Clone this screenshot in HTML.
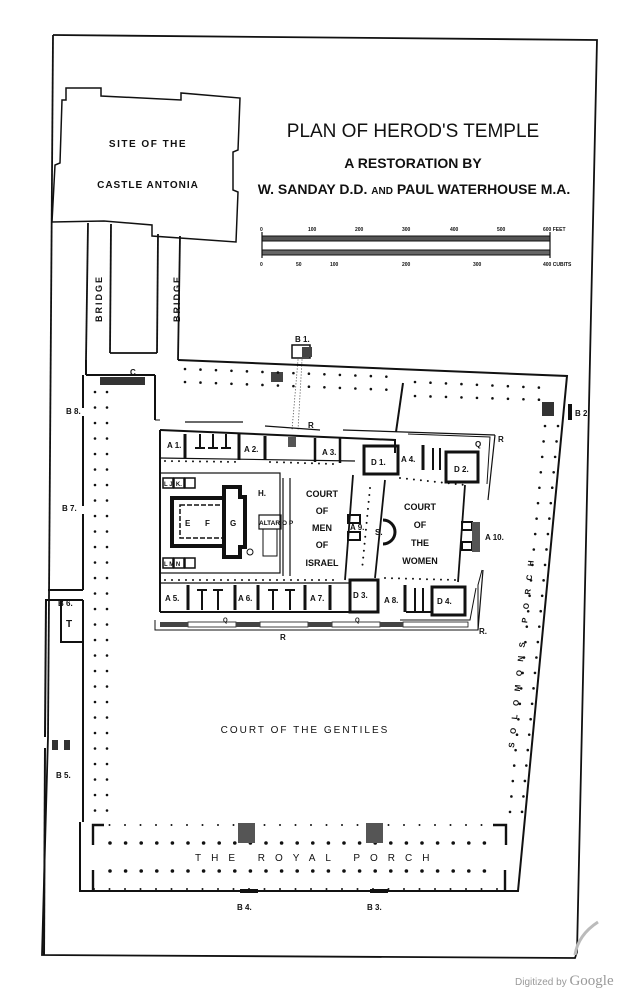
<!DOCTYPE html>
<html><head><meta charset="utf-8"><style>
html,body{margin:0;padding:0;background:#fff;}
svg{display:block;}
text{font-family:"Liberation Sans",sans-serif;fill:#111;}
.b{font-weight:bold;}
</style></head><body>
<svg width="643" height="1006" viewBox="0 0 643 1006" xmlns="http://www.w3.org/2000/svg">
<g fill="none" stroke="#111" stroke-width="1.8">
<polyline points="53,35 597,40 577,952 575,958 42,955 48,737"/>
<line x1="53" y1="35" x2="48" y2="737"/>
<polygon points="66,88 101,88 101,96 181,100 181,93 240,98 238,150 233,152 233,190 238,192 236,242 152,236 152,225 104,221 52,222 55,165 60,163 62,100 66,100" stroke-width="1.5"/>
<line x1="88" y1="223" x2="86" y2="360"/>
<line x1="111" y1="224" x2="110" y2="353"/>
<line x1="158" y1="234" x2="157" y2="353"/>
<line x1="180" y1="236" x2="178" y2="360"/>
<line x1="110" y1="353" x2="157" y2="353"/>
</g>

<text x="413" y="137" font-size="19" text-anchor="middle">PLAN OF HEROD'S TEMPLE</text>
<text x="413" y="168" font-size="14" text-anchor="middle" class="b">A RESTORATION  BY</text>
<text x="414" y="194" font-size="14" text-anchor="middle" class="b">W. SANDAY D.D. <tspan font-size="10">AND</tspan> PAUL WATERHOUSE M.A.</text>
<text x="148" y="147" font-size="10" text-anchor="middle" class="b" letter-spacing="1.5">SITE OF THE</text>
<text x="148" y="188" font-size="10" text-anchor="middle" class="b" letter-spacing="1">CASTLE ANTONIA</text>
<text transform="translate(102,322) rotate(-90)" font-size="9" class="b" letter-spacing="2">BRIDGE</text>
<text transform="translate(180,322) rotate(-90)" font-size="9" class="b" letter-spacing="2">BRIDGE</text>

<g stroke="#111">
<rect x="262" y="236" width="288" height="5" fill="#555" stroke-width="1"/>
<rect x="262" y="250" width="288" height="5" fill="#666" stroke-width="1"/>
<line x1="262" y1="232" x2="262" y2="258" stroke-width="1.2"/>
<line x1="550" y1="232" x2="550" y2="258" stroke-width="1.2"/>
</g>
<g font-size="5" class="b">
<text x="260" y="231">0</text><text x="308" y="231">100</text><text x="355" y="231">200</text><text x="402" y="231">300</text><text x="450" y="231">400</text><text x="497" y="231">500</text><text x="543" y="231">600 FEET</text>
<text x="260" y="266">0</text><text x="296" y="266">50</text><text x="330" y="266">100</text><text x="402" y="266">200</text><text x="473" y="266">300</text><text x="543" y="266">400 CUBITS</text>
</g>

<g fill="none" stroke="#111" stroke-width="2">
<polyline points="178,360 567,376 518,891 80,891 80,822"/>
<line x1="83" y1="375" x2="83" y2="408"/>
<line x1="83" y1="416" x2="83" y2="506"/>
<line x1="83" y1="514" x2="83" y2="590"/>
<line x1="83" y1="600" x2="83" y2="822"/>
<line x1="48" y1="590" x2="83" y2="590"/>
<line x1="45" y1="600" x2="83" y2="600"/>
<line x1="46" y1="600" x2="45" y2="737"/>
<line x1="45" y1="748" x2="44" y2="955"/>
<polyline points="61,600 61,642 82,642"/>
<line x1="86" y1="360" x2="86" y2="375"/>
<line x1="86" y1="375" x2="155" y2="375"/>
<line x1="155" y1="375" x2="155" y2="420"/>
<line x1="403" y1="383" x2="396" y2="432"/>
</g>
<rect x="52" y="740" width="6" height="10" fill="#333"/><rect x="64" y="740" width="6" height="10" fill="#333"/>
<rect x="100" y="377" width="45" height="8" fill="#333"/>
<rect x="292" y="345" width="18" height="13" fill="#fff" stroke="#111" stroke-width="1.5"/>
<rect x="302" y="347" width="10" height="10" fill="#444"/>
<rect x="271" y="372" width="12" height="10" fill="#444"/>
<rect x="542" y="402" width="12" height="14" fill="#333"/>
<rect x="568" y="404" width="4" height="16" fill="#111"/>
<text x="295" y="342" font-size="8" class="b">B 1.</text>
<text x="575" y="416" font-size="8" class="b">B 2.</text>
<text x="66" y="414" font-size="8" class="b">B 8.</text>
<text x="62" y="511" font-size="8" class="b">B 7.</text>
<text x="58" y="606" font-size="8" class="b">B 6.</text>
<text x="66" y="627" font-size="10" class="b">T</text>
<text x="56" y="778" font-size="8" class="b">B 5.</text>
<text x="130" y="375" font-size="8" class="b">C</text>
<text x="237" y="910" font-size="8" class="b">B 4.</text>
<text x="367" y="910" font-size="8" class="b">B 3.</text>

<g stroke="#111" stroke-width="2.6" stroke-linecap="round" stroke-dasharray="0 15.5">
<line x1="95" y1="392" x2="95" y2="815"/>
<line x1="107" y1="392" x2="107" y2="815"/>
<line x1="185" y1="369" x2="395" y2="377"/>
<line x1="185" y1="382" x2="395" y2="390"/>
<line x1="415" y1="382" x2="548" y2="388"/>
<line x1="415" y1="396" x2="548" y2="400"/>
<line x1="545" y1="426" x2="510" y2="812"/>
<line x1="558" y1="426" x2="522" y2="812"/>
<line x1="94" y1="825" x2="505" y2="825" stroke-width="2"/>
<line x1="110" y1="843" x2="496" y2="843" stroke-width="3.6" stroke-dasharray="0 15.6"/>
<line x1="110" y1="871" x2="496" y2="871" stroke-width="3.6" stroke-dasharray="0 15.6"/>
<line x1="94" y1="889" x2="505" y2="889" stroke-width="2"/>
</g>
<rect x="238" y="823" width="17" height="20" fill="#555"/>
<rect x="366" y="823" width="17" height="20" fill="#555"/>
<rect x="240" y="889" width="18" height="4" fill="#111"/>
<rect x="370" y="889" width="18" height="4" fill="#111"/>
<g stroke="#111" stroke-width="2.4" fill="none">
<polyline points="104,825 93,825 93,845"/><polyline points="493,825 506,825 506,845"/>
<line x1="93" y1="870" x2="93" y2="890"/><line x1="505" y1="870" x2="505" y2="890"/>
</g>
<text x="195" y="861" font-size="10" letter-spacing="10">THE ROYAL PORCH</text>
<text x="305" y="733" font-size="10" text-anchor="middle" letter-spacing="2">COURT  OF  THE  GENTILES</text>
<text transform="translate(514,748) rotate(-84)" font-size="8" letter-spacing="8.5" class="b">SOLOMONS PORCH</text>

<g fill="none" stroke="#111" stroke-width="2">
<polyline points="160,430 395,440 395,453"/>
<line x1="160" y1="430" x2="160" y2="612"/>
<line x1="160" y1="612" x2="350" y2="612"/>
<line x1="160" y1="583" x2="350" y2="583" stroke-width="1.2"/>
<line x1="160" y1="458" x2="355" y2="461" stroke-width="1.2"/>
<polyline points="155,620 155,630 478,630 478,585 482,570" stroke-width="1"/>
<polyline points="155,420 160,420" stroke-width="1"/>
<line x1="185" y1="422" x2="243" y2="422" stroke-width="1.2"/>
<line x1="265" y1="426" x2="320" y2="430" stroke-width="1.2"/>
<line x1="343" y1="430" x2="495" y2="435" stroke-width="1.2"/>
<line x1="495" y1="435" x2="488" y2="500" stroke-width="1.2"/>
<line x1="483" y1="570" x2="478" y2="630" stroke-width="1.2"/>
<polyline points="408,434 490,437 487,484" stroke-width="1"/>
<polyline points="400,620 470,620 476,588" stroke-width="1"/>
<line x1="185" y1="434" x2="185" y2="458" stroke-width="3"/>
<line x1="200" y1="434" x2="200" y2="448"/><line x1="195" y1="448" x2="205" y2="448"/>
<line x1="213" y1="434" x2="213" y2="448"/><line x1="208" y1="448" x2="218" y2="448"/>
<line x1="226" y1="434" x2="226" y2="448"/><line x1="221" y1="448" x2="231" y2="448"/>
<line x1="239" y1="434" x2="239" y2="460" stroke-width="3"/>
<line x1="265" y1="436" x2="265" y2="460" stroke-width="3"/>
<line x1="315" y1="438" x2="315" y2="462" stroke-width="2.5"/>
<line x1="340" y1="438" x2="340" y2="463" stroke-width="2.5"/>
<rect x="160" y="473" width="120" height="100" stroke-width="1.2"/>
<line x1="283" y1="478" x2="283" y2="576" stroke-width="1.2"/>
<line x1="290" y1="478" x2="290" y2="576" stroke-width="1.2"/>
<rect x="172" y="498" width="60" height="48" stroke-width="4"/>
<rect x="180" y="505" width="45" height="33" stroke-width="1.5" stroke-dasharray="5 2"/>
<polygon points="224,487 240,487 240,497 245,497 245,547 240,547 240,557 224,557" stroke-width="4" fill="#fff"/>
<rect x="259" y="515" width="22" height="14" stroke-width="1.2"/>
<rect x="263" y="529" width="14" height="27" stroke-width="1"/>
<circle cx="250" cy="552" r="3" stroke-width="1"/>
<rect x="163" y="478" width="10" height="10" stroke-width="1.5"/><rect x="174" y="478" width="10" height="10" stroke-width="1.5"/><rect x="185" y="478" width="10" height="10" stroke-width="1.5"/>
<rect x="163" y="558" width="10" height="10" stroke-width="1.5"/><rect x="174" y="558" width="10" height="10" stroke-width="1.5"/><rect x="185" y="558" width="10" height="10" stroke-width="1.5"/>
<line x1="188" y1="585" x2="188" y2="610" stroke-width="3"/>
<line x1="202" y1="590" x2="202" y2="610"/><line x1="197" y1="590" x2="207" y2="590"/>
<line x1="218" y1="590" x2="218" y2="610"/><line x1="213" y1="590" x2="223" y2="590"/>
<line x1="235" y1="585" x2="235" y2="610" stroke-width="3"/>
<line x1="258" y1="585" x2="258" y2="610" stroke-width="3"/>
<line x1="273" y1="590" x2="273" y2="610"/><line x1="268" y1="590" x2="278" y2="590"/>
<line x1="290" y1="590" x2="290" y2="610"/><line x1="285" y1="590" x2="295" y2="590"/>
<line x1="305" y1="585" x2="305" y2="610" stroke-width="3"/>
<line x1="330" y1="585" x2="330" y2="610" stroke-width="3"/>
<polyline points="353,475 345,580" stroke-width="1.8"/>
<polyline points="385,480 375,578" stroke-width="1.8"/>
<polyline points="465,485 458,582" stroke-width="1.8"/>
<rect x="364" y="446" width="34" height="28" stroke-width="3"/>
<rect x="446" y="452" width="32" height="30" stroke-width="3"/>
<rect x="350" y="580" width="28" height="32" stroke-width="3"/>
<rect x="432" y="587" width="33" height="28" stroke-width="3"/>
<line x1="423" y1="445" x2="423" y2="470" stroke-width="3"/>
<line x1="433" y1="448" x2="433" y2="470"/><line x1="440" y1="448" x2="440" y2="470"/>
<line x1="405" y1="585" x2="405" y2="612" stroke-width="3"/>
<line x1="415" y1="588" x2="415" y2="612"/><line x1="423" y1="588" x2="423" y2="612"/>
<line x1="406" y1="612" x2="432" y2="612" stroke-width="2"/>
<path d="M383,520 A12,12 0 0 1 383,544" stroke-width="3"/>
<rect x="348" y="515" width="12" height="8" stroke-width="2"/><rect x="348" y="532" width="12" height="8" stroke-width="2"/>
<rect x="462" y="522" width="10" height="8" stroke-width="2"/><rect x="462" y="542" width="10" height="8" stroke-width="2"/>
</g>
<rect x="472" y="522" width="8" height="30" fill="#555"/>
<rect x="288" y="437" width="8" height="10" fill="#555"/>
<g stroke="#111" stroke-width="2" stroke-linecap="round" stroke-dasharray="0 7" fill="none">
<line x1="165" y1="461" x2="240" y2="462"/>
<line x1="270" y1="462" x2="335" y2="464"/>
<line x1="165" y1="580" x2="340" y2="580"/>
<line x1="400" y1="478" x2="465" y2="485"/>
<line x1="385" y1="578" x2="455" y2="580"/>
<line x1="370" y1="488" x2="362" y2="570"/>
<line x1="298" y1="360" x2="292" y2="430" stroke-width="1" stroke-dasharray="0 3"/>
<line x1="302" y1="360" x2="298" y2="430" stroke-width="1" stroke-dasharray="0 3"/>
</g>
<g fill="#fff" stroke="#111" stroke-width="0.8">
<rect x="188" y="622" width="48" height="5"/><rect x="260" y="622" width="48" height="5"/><rect x="332" y="622" width="48" height="5"/><rect x="403" y="622" width="65" height="5"/>
</g>
<g fill="#444"><rect x="160" y="622" width="28" height="5"/><rect x="236" y="622" width="24" height="5"/><rect x="308" y="622" width="24" height="5"/><rect x="380" y="622" width="23" height="5"/></g>
<g font-size="8" class="b">
<text x="167" y="448">A 1.</text><text x="244" y="452">A 2.</text><text x="322" y="455">A 3.</text>
<text x="371" y="465">D 1.</text><text x="401" y="462">A 4.</text><text x="454" y="472">D 2.</text>
<text x="475" y="447">Q</text><text x="498" y="442">R</text><text x="308" y="428">R</text>
<text x="164" y="486" font-size="6">L J. K.</text><text x="258" y="496">H.</text>
<text x="185" y="526">E</text><text x="205" y="526">F</text><text x="230" y="526">G</text>
<text x="259" y="525" font-size="6.5">ALTAR</text><text x="282" y="525" font-size="6.5">O P</text>
<text x="164" y="566" font-size="6">L M N</text>
<text x="165" y="601">A 5.</text><text x="238" y="601">A 6.</text><text x="310" y="601">A 7.</text>
<text x="353" y="598">D 3.</text><text x="384" y="603">A 8.</text><text x="437" y="604">D 4.</text>
<text x="350" y="530">A 9.</text><text x="375" y="535">S.</text><text x="485" y="540">A 10.</text>
<text x="223" y="622" font-size="6">Q</text><text x="355" y="622" font-size="6">Q</text>
<text x="280" y="640">R</text><text x="479" y="634">R.</text>
</g>
<g font-size="9" text-anchor="middle" class="b">
<text x="322" y="497">COURT</text><text x="322" y="514">OF</text><text x="322" y="531">MEN</text><text x="322" y="548">OF</text><text x="322" y="566">ISRAEL</text>
<text x="420" y="510">COURT</text><text x="420" y="528">OF</text><text x="420" y="546">THE</text><text x="420" y="564">WOMEN</text>
</g>
<path d="M575,955 Q578,935 598,922" fill="none" stroke="#bbb" stroke-width="3"/>
<text x="515" y="985" font-size="10" style="fill:#999">Digitized by <tspan font-size="15" font-family="Liberation Serif">Google</tspan></text>
</svg>
</body></html>
